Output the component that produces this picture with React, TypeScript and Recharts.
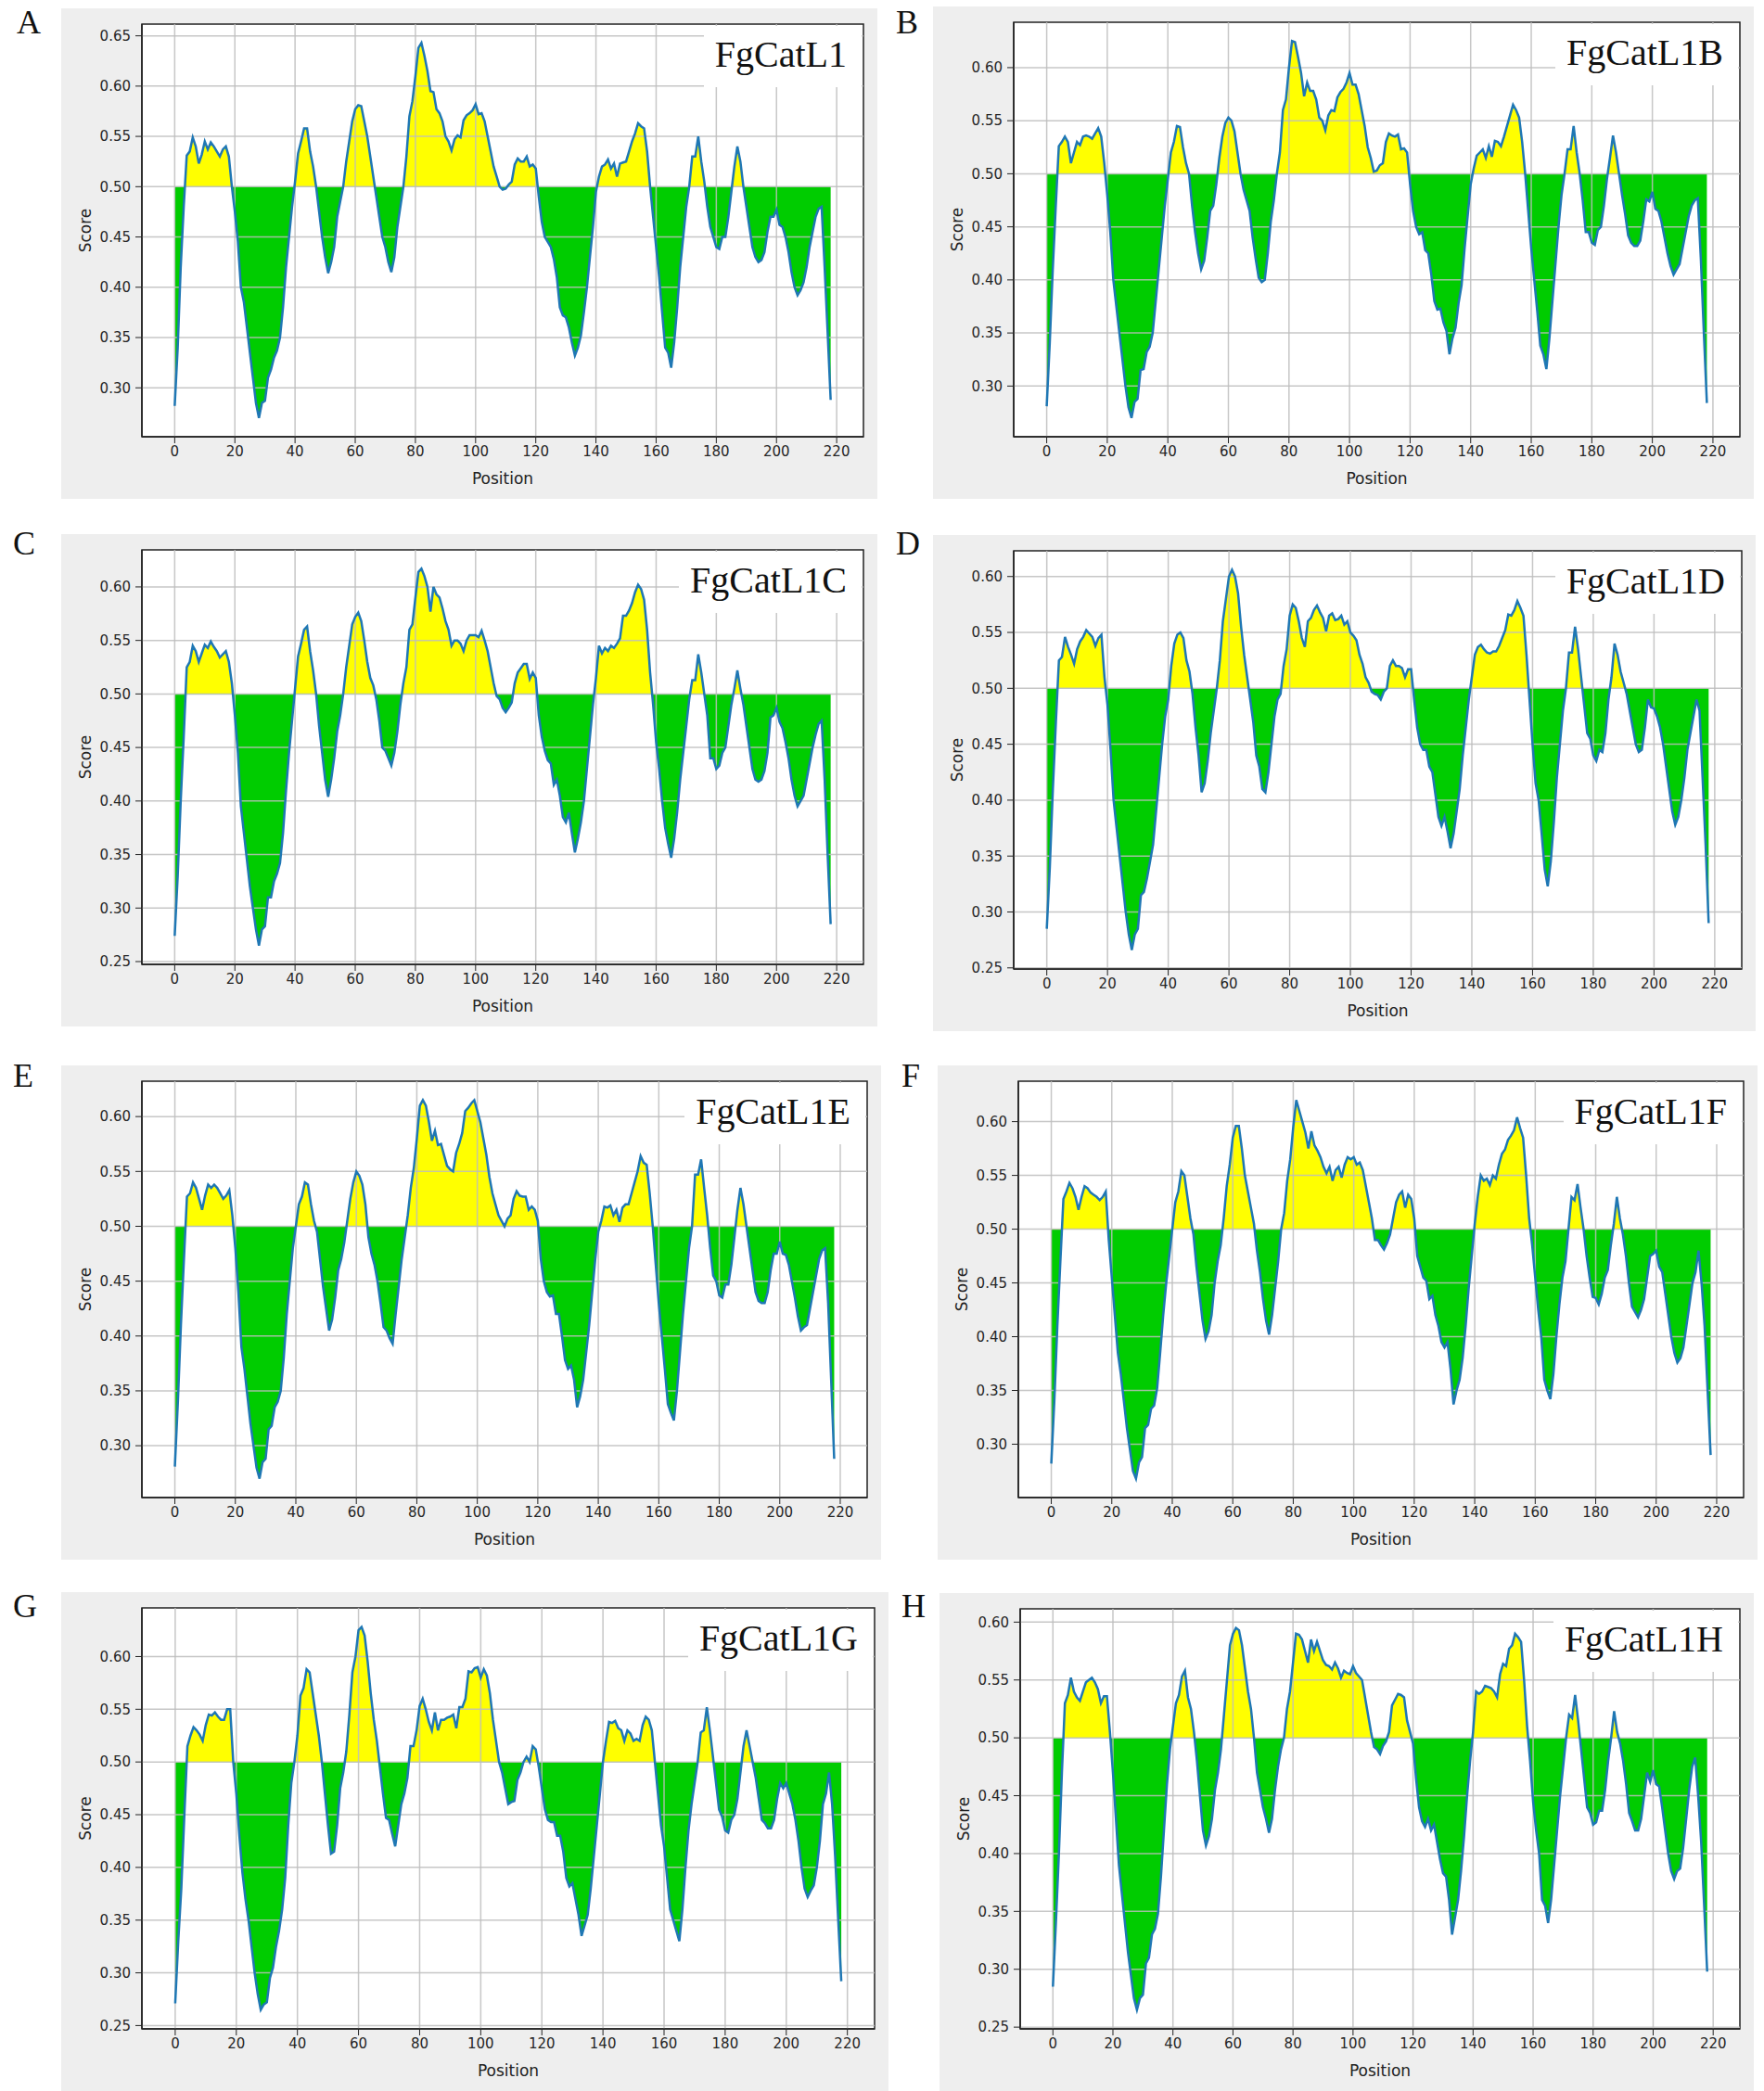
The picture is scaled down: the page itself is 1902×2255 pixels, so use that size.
import React from 'react';
import { ComposedChart, Area, Line, XAxis, YAxis, ReferenceLine } from 'recharts';

// residue positions 0..218
const positions = Array.from({ length: 219 }, (_, i) => i);

const xTicks = [0, 20, 40, 60, 80, 100, 120, 140, 160, 180, 200, 220];
const xMinorTicks = [-10, -5, 0, 5, 10, 15, 20, 25, 30, 35, 40, 45, 50, 55, 60, 65, 70, 75, 80, 85, 90, 95, 100,
  105, 110, 115, 120, 125, 130, 135, 140, 145, 150, 155, 160, 165, 170, 175, 180, 185, 190, 195, 200, 205, 210, 215, 220, 225];

const ticks65 = [0.3, 0.35, 0.4, 0.45, 0.5, 0.55, 0.6, 0.65];
const ticks60 = [0.3, 0.35, 0.4, 0.45, 0.5, 0.55, 0.6];
const ticks25 = [0.25, 0.3, 0.35, 0.4, 0.45, 0.5, 0.55, 0.6];

const scoreA = [
  0.282, 0.34, 0.42, 0.48, 0.531, 0.535, 0.549, 0.54, 0.523, 0.532,
  0.545, 0.537, 0.544, 0.54, 0.535, 0.53, 0.537, 0.54, 0.53, 0.5,
  0.475, 0.445, 0.4, 0.385, 0.36, 0.335, 0.31, 0.285, 0.27, 0.285,
  0.287, 0.31, 0.318, 0.33, 0.337, 0.35, 0.38, 0.42, 0.45, 0.48,
  0.505, 0.533, 0.545, 0.558, 0.558, 0.535, 0.52, 0.5, 0.475, 0.45,
  0.43, 0.414, 0.425, 0.44, 0.47, 0.485, 0.5, 0.525, 0.545, 0.565,
  0.577, 0.581, 0.58, 0.565, 0.55, 0.53, 0.51, 0.49, 0.47, 0.45,
  0.44, 0.425, 0.415, 0.43, 0.46, 0.48, 0.5, 0.53, 0.57, 0.585,
  0.61, 0.638, 0.643, 0.63, 0.615, 0.595, 0.594, 0.577, 0.573, 0.565,
  0.55, 0.545, 0.536, 0.547, 0.551, 0.549, 0.566, 0.571, 0.573, 0.576,
  0.582, 0.572, 0.573, 0.565, 0.55, 0.535, 0.52, 0.51, 0.5, 0.497,
  0.498, 0.502, 0.505, 0.522, 0.528, 0.525, 0.525, 0.53, 0.52, 0.522,
  0.518, 0.49, 0.465, 0.45, 0.445, 0.44, 0.428, 0.41, 0.38, 0.372,
  0.37, 0.36, 0.345, 0.332, 0.34, 0.352, 0.375, 0.4, 0.43, 0.46,
  0.495, 0.51, 0.52, 0.522, 0.527, 0.518, 0.523, 0.51, 0.523, 0.524,
  0.525, 0.535, 0.545, 0.553, 0.563, 0.56, 0.558, 0.535, 0.5, 0.47,
  0.44, 0.41, 0.375, 0.34, 0.335, 0.32, 0.345, 0.38, 0.42, 0.45,
  0.48, 0.5, 0.53, 0.53, 0.55, 0.525, 0.505, 0.48, 0.46, 0.45,
  0.44, 0.438, 0.45, 0.45, 0.47, 0.495, 0.52, 0.54, 0.525, 0.5,
  0.48, 0.46, 0.44, 0.43, 0.425, 0.427, 0.435, 0.455, 0.47, 0.47,
  0.477, 0.462, 0.46, 0.45, 0.435, 0.415, 0.4, 0.392, 0.397, 0.405,
  0.42, 0.44, 0.455, 0.47, 0.478, 0.48, 0.42, 0.355, 0.288,
];

const scoreB = [
  0.281, 0.34, 0.41, 0.47, 0.526, 0.53, 0.535, 0.53, 0.51, 0.52,
  0.53, 0.527, 0.535, 0.536, 0.535, 0.533, 0.538, 0.543, 0.535, 0.51,
  0.48, 0.445, 0.4, 0.375, 0.35, 0.325, 0.3, 0.28, 0.27, 0.285,
  0.288, 0.315, 0.316, 0.332, 0.337, 0.35, 0.38, 0.41, 0.44, 0.47,
  0.495, 0.52, 0.53, 0.545, 0.544, 0.525, 0.51, 0.5, 0.47, 0.445,
  0.425, 0.41, 0.418, 0.44, 0.465, 0.47, 0.49, 0.515, 0.535, 0.548,
  0.553, 0.55, 0.54, 0.52, 0.5, 0.485, 0.475, 0.465, 0.44, 0.42,
  0.402, 0.398, 0.4, 0.425, 0.455, 0.475, 0.5, 0.52, 0.56, 0.57,
  0.6, 0.625, 0.624, 0.61, 0.595, 0.573, 0.586, 0.578, 0.578, 0.57,
  0.553, 0.55, 0.541, 0.555, 0.56, 0.559, 0.572, 0.577, 0.58, 0.586,
  0.595, 0.584, 0.584, 0.575, 0.56, 0.545, 0.525, 0.515, 0.502, 0.503,
  0.508, 0.51, 0.53, 0.538, 0.536, 0.535, 0.537, 0.523, 0.524, 0.52,
  0.49, 0.465, 0.45, 0.443, 0.445, 0.428, 0.425, 0.405, 0.38, 0.372,
  0.373, 0.36, 0.352, 0.33, 0.345, 0.355, 0.378, 0.395, 0.43, 0.46,
  0.49, 0.505, 0.517, 0.52, 0.523, 0.515, 0.526, 0.516, 0.531, 0.53,
  0.526, 0.535, 0.545, 0.555, 0.565, 0.56, 0.553, 0.53, 0.5, 0.465,
  0.43, 0.4, 0.37, 0.338, 0.33, 0.316, 0.345, 0.38, 0.415, 0.45,
  0.48, 0.5, 0.523, 0.523, 0.545, 0.52, 0.5, 0.475, 0.445, 0.445,
  0.435, 0.433, 0.447, 0.45, 0.47, 0.495, 0.515, 0.536, 0.52, 0.5,
  0.48, 0.462, 0.442, 0.435, 0.432, 0.432, 0.437, 0.455, 0.476, 0.474,
  0.483, 0.467, 0.465, 0.455, 0.44, 0.425, 0.413, 0.405, 0.41, 0.415,
  0.43, 0.445, 0.46, 0.47, 0.475, 0.477, 0.42, 0.35, 0.284,
];

const scoreC = [
  0.274, 0.33, 0.4, 0.46, 0.525, 0.53, 0.545, 0.54, 0.53, 0.538,
  0.546, 0.543, 0.549, 0.544, 0.54, 0.534, 0.537, 0.54, 0.53, 0.51,
  0.48, 0.445, 0.395, 0.37, 0.345, 0.32, 0.3, 0.28, 0.265, 0.28,
  0.283, 0.31, 0.31, 0.325, 0.332, 0.342, 0.37, 0.41, 0.445, 0.475,
  0.505, 0.535, 0.547, 0.56, 0.563, 0.54, 0.522, 0.5, 0.47, 0.445,
  0.42, 0.404, 0.42, 0.44, 0.465, 0.48, 0.5, 0.525, 0.545, 0.565,
  0.572, 0.576, 0.568, 0.55, 0.53, 0.515, 0.508, 0.495, 0.475, 0.45,
  0.447, 0.44, 0.433, 0.445, 0.465, 0.49, 0.51, 0.525, 0.56, 0.565,
  0.59, 0.614, 0.617, 0.61, 0.6, 0.577, 0.6, 0.593, 0.59, 0.58,
  0.568, 0.56, 0.545, 0.55, 0.55, 0.547, 0.54, 0.55, 0.555, 0.555,
  0.555, 0.553, 0.559, 0.55, 0.54, 0.525, 0.51, 0.498, 0.495, 0.487,
  0.483, 0.487, 0.492, 0.51, 0.52, 0.524, 0.528, 0.528, 0.514, 0.52,
  0.515, 0.48, 0.46, 0.447, 0.438, 0.435, 0.415, 0.42, 0.405, 0.385,
  0.38, 0.389, 0.37, 0.352, 0.365, 0.38, 0.4, 0.43, 0.46, 0.49,
  0.515, 0.545, 0.538, 0.543, 0.54, 0.545, 0.543, 0.547, 0.552, 0.573,
  0.573, 0.578, 0.585, 0.595, 0.602, 0.598, 0.588, 0.56, 0.52, 0.49,
  0.455, 0.43, 0.4, 0.375, 0.36, 0.347, 0.365, 0.39, 0.42, 0.445,
  0.47, 0.495, 0.513, 0.513, 0.537, 0.52, 0.5, 0.48, 0.44, 0.44,
  0.43, 0.433, 0.445, 0.45, 0.47, 0.49, 0.505, 0.522, 0.505, 0.49,
  0.47, 0.45, 0.43, 0.42, 0.418, 0.42, 0.428, 0.445, 0.478, 0.48,
  0.487, 0.474, 0.468, 0.455, 0.44, 0.42, 0.405, 0.395, 0.4, 0.405,
  0.42, 0.435, 0.45, 0.462, 0.472, 0.475, 0.42, 0.35, 0.285,
];

const scoreD = [
  0.285, 0.34, 0.41, 0.47, 0.525, 0.528, 0.546, 0.537, 0.53, 0.522,
  0.535, 0.542, 0.546, 0.552, 0.549, 0.546, 0.538, 0.545, 0.548, 0.51,
  0.485, 0.445, 0.4, 0.375, 0.35, 0.325, 0.3, 0.28, 0.266, 0.28,
  0.285, 0.315, 0.318, 0.33, 0.345, 0.36, 0.39, 0.42, 0.45, 0.475,
  0.49, 0.52, 0.54, 0.548, 0.55, 0.545, 0.525, 0.515, 0.495, 0.465,
  0.44, 0.407, 0.415, 0.435, 0.46, 0.48, 0.5, 0.525, 0.56, 0.58,
  0.6, 0.606, 0.6, 0.585, 0.555, 0.53, 0.51, 0.49, 0.47, 0.44,
  0.43, 0.41, 0.407, 0.425, 0.45, 0.475, 0.49, 0.495, 0.52, 0.535,
  0.565, 0.575, 0.572, 0.56, 0.545, 0.537, 0.56, 0.563, 0.57, 0.574,
  0.568, 0.563, 0.551, 0.565, 0.567, 0.561, 0.562, 0.565, 0.557, 0.56,
  0.55, 0.547, 0.543, 0.53, 0.522, 0.51, 0.505, 0.497, 0.495, 0.494,
  0.49, 0.497, 0.5, 0.52, 0.525, 0.52, 0.52, 0.518, 0.51, 0.517,
  0.517, 0.49, 0.465, 0.45, 0.445, 0.445, 0.43, 0.425, 0.405, 0.385,
  0.377, 0.385, 0.372, 0.357, 0.37, 0.39, 0.41, 0.44, 0.465, 0.49,
  0.51, 0.53, 0.537, 0.539, 0.535, 0.532, 0.531, 0.533, 0.533, 0.538,
  0.545, 0.552, 0.566, 0.565, 0.57, 0.578, 0.572, 0.565, 0.53, 0.49,
  0.45, 0.415, 0.4, 0.37, 0.338, 0.323, 0.345, 0.38, 0.42, 0.45,
  0.48, 0.5, 0.532, 0.532, 0.555, 0.535, 0.51, 0.485, 0.46, 0.455,
  0.44, 0.435, 0.445, 0.443, 0.46, 0.49, 0.51, 0.54, 0.53, 0.515,
  0.505, 0.495, 0.48, 0.465, 0.45, 0.443, 0.445, 0.465, 0.49, 0.483,
  0.482, 0.475, 0.465, 0.45, 0.43, 0.41, 0.39, 0.378, 0.385, 0.4,
  0.42, 0.445, 0.46, 0.475, 0.49, 0.48, 0.42, 0.36, 0.29,
];

const scoreE = [
  0.281, 0.34, 0.41, 0.47, 0.527, 0.53, 0.54, 0.535, 0.525, 0.515,
  0.528, 0.538, 0.535, 0.538, 0.535, 0.53, 0.525, 0.528, 0.533, 0.51,
  0.48, 0.44, 0.39, 0.37, 0.345, 0.32, 0.3, 0.28, 0.27, 0.285,
  0.288, 0.315, 0.318, 0.335, 0.34, 0.35, 0.38, 0.42, 0.45, 0.48,
  0.5, 0.52, 0.527, 0.54, 0.538, 0.52, 0.505, 0.495, 0.47, 0.445,
  0.425, 0.405, 0.415, 0.435, 0.46, 0.47, 0.485, 0.505, 0.525, 0.54,
  0.55, 0.546, 0.538, 0.52, 0.49, 0.475, 0.465, 0.45, 0.43, 0.408,
  0.405, 0.398, 0.393, 0.42, 0.445, 0.47, 0.49, 0.51, 0.535, 0.553,
  0.58, 0.61, 0.615, 0.61, 0.595, 0.578, 0.587, 0.574, 0.575, 0.565,
  0.555, 0.552, 0.55, 0.567, 0.575, 0.585, 0.605, 0.608, 0.612, 0.615,
  0.605, 0.595, 0.58, 0.565, 0.545, 0.53, 0.52, 0.51, 0.505, 0.5,
  0.507, 0.51, 0.525, 0.532, 0.528, 0.527, 0.527, 0.515, 0.518, 0.515,
  0.505, 0.47, 0.45, 0.44, 0.436, 0.437, 0.42, 0.42, 0.4, 0.378,
  0.37, 0.373, 0.36, 0.335, 0.345, 0.36, 0.385, 0.41, 0.44, 0.47,
  0.495, 0.505, 0.518, 0.517, 0.519, 0.51, 0.515, 0.504, 0.517, 0.52,
  0.52, 0.53, 0.54, 0.55, 0.564, 0.558, 0.556, 0.53, 0.5, 0.465,
  0.43, 0.4, 0.37, 0.338, 0.33, 0.323, 0.35, 0.385, 0.42, 0.45,
  0.48, 0.5, 0.547, 0.547, 0.561, 0.535, 0.51, 0.48, 0.455, 0.45,
  0.437, 0.435, 0.447, 0.447, 0.465, 0.49, 0.515, 0.535, 0.52, 0.5,
  0.48, 0.46, 0.44, 0.432, 0.43, 0.43, 0.44, 0.46, 0.475, 0.475,
  0.486, 0.475, 0.474, 0.465, 0.45, 0.435, 0.418, 0.405, 0.408, 0.41,
  0.425, 0.44, 0.455, 0.47, 0.478, 0.48, 0.43, 0.36, 0.288,
];

const scoreF = [
  0.282, 0.34, 0.41, 0.47, 0.528, 0.535, 0.543, 0.538, 0.53, 0.518,
  0.53, 0.54, 0.538, 0.534, 0.532, 0.53, 0.527, 0.53, 0.535, 0.49,
  0.455, 0.42, 0.385, 0.365, 0.34, 0.315, 0.295, 0.275, 0.268, 0.283,
  0.288, 0.315, 0.318, 0.333, 0.336, 0.352, 0.385, 0.42, 0.45, 0.475,
  0.5, 0.525, 0.535, 0.554, 0.55, 0.53, 0.51, 0.495, 0.465, 0.44,
  0.415, 0.398, 0.405, 0.42, 0.45, 0.47, 0.485, 0.51, 0.54, 0.56,
  0.585, 0.596, 0.596, 0.575, 0.55, 0.535, 0.52, 0.505, 0.48, 0.46,
  0.435, 0.415, 0.402, 0.42, 0.445, 0.47, 0.5, 0.515, 0.545, 0.565,
  0.595, 0.62, 0.61, 0.6, 0.59, 0.575, 0.591, 0.578, 0.573, 0.567,
  0.558, 0.552, 0.558, 0.545, 0.555, 0.558, 0.548, 0.56, 0.567, 0.565,
  0.567, 0.56, 0.562, 0.555, 0.54, 0.525, 0.51, 0.49, 0.49, 0.485,
  0.481, 0.487, 0.495, 0.51, 0.525, 0.532, 0.535, 0.52, 0.532, 0.528,
  0.51, 0.475, 0.465, 0.455, 0.452, 0.435, 0.438, 0.42, 0.41, 0.395,
  0.39, 0.395, 0.37, 0.337, 0.35, 0.36, 0.38, 0.41, 0.445, 0.475,
  0.505, 0.53, 0.55, 0.545, 0.547, 0.541, 0.55, 0.547, 0.56, 0.57,
  0.574, 0.583, 0.587, 0.592, 0.604, 0.594, 0.585, 0.55, 0.51, 0.485,
  0.455, 0.425, 0.4, 0.36, 0.35, 0.342, 0.365, 0.4, 0.43, 0.455,
  0.47, 0.5, 0.53, 0.527, 0.542, 0.52, 0.5, 0.475, 0.455, 0.437,
  0.436, 0.43, 0.44, 0.455, 0.462, 0.485, 0.505, 0.53, 0.51, 0.495,
  0.475, 0.45, 0.428, 0.423, 0.418, 0.425, 0.435, 0.455, 0.475, 0.477,
  0.48, 0.465, 0.46, 0.44, 0.42, 0.4, 0.385, 0.376, 0.38, 0.39,
  0.41, 0.43, 0.45, 0.46, 0.48, 0.45, 0.41, 0.35, 0.29,
];

const scoreG = [
  0.271, 0.33, 0.38, 0.45, 0.515, 0.525, 0.533, 0.53, 0.526, 0.52,
  0.535, 0.545, 0.544, 0.547, 0.543, 0.54, 0.54, 0.55, 0.55, 0.5,
  0.47, 0.43, 0.395, 0.37, 0.35, 0.325, 0.3, 0.28, 0.265, 0.27,
  0.272, 0.295, 0.305, 0.325, 0.34, 0.36, 0.39, 0.44, 0.48, 0.5,
  0.525, 0.563, 0.57, 0.588, 0.585, 0.565, 0.545, 0.525, 0.5, 0.47,
  0.44, 0.413, 0.415, 0.44, 0.475, 0.49, 0.51, 0.545, 0.585, 0.6,
  0.625, 0.628, 0.62, 0.595, 0.565, 0.54, 0.52, 0.495, 0.47, 0.447,
  0.445, 0.432, 0.42, 0.44, 0.46, 0.47, 0.485, 0.515, 0.515, 0.53,
  0.553, 0.56, 0.55, 0.538, 0.53, 0.547, 0.53, 0.54, 0.54, 0.542,
  0.543, 0.545, 0.532, 0.552, 0.552, 0.56, 0.586, 0.585, 0.589, 0.59,
  0.58, 0.588, 0.582, 0.565, 0.54, 0.52, 0.5, 0.49, 0.475, 0.46,
  0.462, 0.463, 0.483, 0.49, 0.5, 0.505, 0.5, 0.515, 0.512, 0.495,
  0.475, 0.455, 0.445, 0.443, 0.443, 0.43, 0.43, 0.415, 0.39, 0.382,
  0.385, 0.37, 0.355, 0.335, 0.345, 0.355, 0.38, 0.41, 0.44, 0.47,
  0.5, 0.52, 0.538, 0.537, 0.539, 0.532, 0.53, 0.52, 0.53, 0.527,
  0.52, 0.522, 0.52, 0.535, 0.543, 0.54, 0.53, 0.5, 0.47, 0.44,
  0.42, 0.39, 0.36, 0.35, 0.34, 0.33, 0.36, 0.4, 0.435, 0.46,
  0.48, 0.5, 0.528, 0.53, 0.552, 0.53, 0.505, 0.48, 0.455, 0.448,
  0.435, 0.433, 0.445, 0.45, 0.465, 0.49, 0.515, 0.53, 0.515, 0.5,
  0.485, 0.465, 0.445, 0.442, 0.437, 0.437, 0.445, 0.465, 0.48, 0.475,
  0.48, 0.47, 0.46, 0.445, 0.425, 0.4, 0.38, 0.372, 0.378, 0.383,
  0.4, 0.425, 0.46, 0.47, 0.49, 0.46, 0.41, 0.35, 0.292,
];

const scoreH = [
  0.285, 0.34, 0.4, 0.47, 0.53, 0.537, 0.552, 0.54, 0.535, 0.532,
  0.54, 0.548, 0.55, 0.552, 0.548, 0.542, 0.53, 0.536, 0.536, 0.505,
  0.47, 0.43, 0.39, 0.365, 0.34, 0.315, 0.295, 0.275, 0.265, 0.275,
  0.278, 0.305, 0.31, 0.33, 0.335, 0.348, 0.38, 0.42, 0.46, 0.49,
  0.51, 0.53, 0.537, 0.553, 0.558, 0.535, 0.525, 0.505, 0.48, 0.45,
  0.42, 0.407, 0.415, 0.43, 0.455, 0.47, 0.49, 0.52, 0.55, 0.58,
  0.59, 0.595, 0.593, 0.58, 0.56, 0.54, 0.525, 0.5, 0.47, 0.455,
  0.44, 0.43, 0.418, 0.43, 0.455, 0.475, 0.49, 0.5, 0.525, 0.54,
  0.565, 0.59, 0.589, 0.585, 0.575, 0.565, 0.585, 0.575, 0.583, 0.575,
  0.567, 0.563, 0.562, 0.559, 0.565, 0.56, 0.552, 0.558, 0.556, 0.555,
  0.562, 0.556, 0.553, 0.55, 0.535, 0.52, 0.505, 0.492, 0.49, 0.486,
  0.493, 0.497, 0.505, 0.528, 0.533, 0.538, 0.537, 0.535, 0.515, 0.505,
  0.495, 0.465, 0.44, 0.428, 0.423, 0.43, 0.42, 0.425, 0.41, 0.395,
  0.383, 0.38, 0.36, 0.33, 0.345, 0.36, 0.385, 0.415, 0.45, 0.48,
  0.505, 0.54, 0.538, 0.54, 0.545, 0.544, 0.543, 0.54, 0.535, 0.555,
  0.564, 0.562, 0.577, 0.58, 0.59, 0.587, 0.583, 0.55, 0.51, 0.48,
  0.445, 0.42, 0.4, 0.36, 0.355, 0.34, 0.36, 0.39, 0.42, 0.45,
  0.475, 0.5, 0.52, 0.517, 0.537, 0.515, 0.49, 0.465, 0.44, 0.435,
  0.425, 0.427, 0.437, 0.437, 0.455, 0.48, 0.5, 0.523, 0.505, 0.495,
  0.48, 0.46, 0.435, 0.428, 0.42, 0.42, 0.43, 0.45, 0.47, 0.462,
  0.472, 0.46, 0.458, 0.44, 0.42, 0.4, 0.385, 0.378, 0.385, 0.387,
  0.405, 0.43, 0.455, 0.475, 0.483, 0.45, 0.41, 0.355, 0.298,
];

const panels = [
  { letter: 'A', name: 'FgCatL1', scores: scoreA, yTicks: ticks65 },
  { letter: 'B', name: 'FgCatL1B', scores: scoreB, yTicks: ticks60 },
  { letter: 'C', name: 'FgCatL1C', scores: scoreC, yTicks: ticks25 },
  { letter: 'D', name: 'FgCatL1D', scores: scoreD, yTicks: ticks25 },
  { letter: 'E', name: 'FgCatL1E', scores: scoreE, yTicks: ticks60 },
  { letter: 'F', name: 'FgCatL1F', scores: scoreF, yTicks: ticks60 },
  { letter: 'G', name: 'FgCatL1G', scores: scoreG, yTicks: ticks25 },
  { letter: 'H', name: 'FgCatL1H', scores: scoreH, yTicks: ticks25 },
];

// page placement of each grey panel and its letter
const layout = [
  { x: 66, y: 9, w: 880, h: 529, lx: 18, ly: 6 },
  { x: 1006, y: 7, w: 885, h: 531, lx: 966, ly: 6 },
  { x: 66, y: 576, w: 880, h: 531, lx: 14, ly: 568 },
  { x: 1006, y: 577, w: 887, h: 535, lx: 966, ly: 568 },
  { x: 66, y: 1149, w: 884, h: 533, lx: 14, ly: 1142 },
  { x: 1011, y: 1149, w: 884, h: 533, lx: 972, ly: 1142 },
  { x: 66, y: 1717, w: 892, h: 538, lx: 14, ly: 1714 },
  { x: 1013, y: 1718, w: 878, h: 537, lx: 972, ly: 1714 },
];

const M_TOP = 17;
const M_RIGHT = 15;
const Y_W = 87;
const X_H = 67;
const xDomain = [-10.9, 228.9];
const tickFont = { fontSize: 15, fill: '#262626', fontFamily: 'DejaVu Sans' };
const frame = { stroke: '#222', strokeWidth: 1.5 };
const gridColor = '#bdbdbd';

function Panel({ p, l }: { p: any; l: any }) {
  const rows = positions.map((pos, i) => ({ pos, score: p.scores[i] }));
  const lo = Math.min(...p.scores);
  const hi = Math.max(...p.scores);
  const pad = (hi - lo) * 0.05;
  const yDomain = [lo - pad, hi + pad];
  const split = (hi - 0.5) / (hi - lo);
  const gid = `split${p.letter}`;
  const plotW = l.w - Y_W - M_RIGHT;
  const plotH = l.h - M_TOP - X_H;

  return (
    <div style={{ position: 'absolute', left: l.x, top: l.y, width: l.w, height: l.h, background: '#eeeeee' }}>
      <ComposedChart width={l.w} height={l.h} data={rows} margin={{ top: M_TOP, right: M_RIGHT, left: 0, bottom: 0 }}>
        <defs>
          <linearGradient id={gid} x1="0" y1="0" x2="0" y2="1">
            <stop offset={split} stopColor="#ffff00" />
            <stop offset={split} stopColor="#00cc00" />
          </linearGradient>
        </defs>
        <rect x={Y_W} y={M_TOP} width={plotW} height={plotH} fill="#ffffff" />
        <XAxis xAxisId="minor" dataKey="pos" type="number" domain={xDomain} ticks={xMinorTicks}
          allowDataOverflow height={0} tick={false} axisLine={false} tickSize={4} stroke="#222" />
        <XAxis dataKey="pos" type="number" domain={xDomain} ticks={xTicks} allowDataOverflow
          height={X_H} tickSize={7} tickMargin={3} stroke="#222" axisLine={frame} tick={tickFont}
          label={{ value: 'Position', position: 'insideBottom', offset: 16, fontSize: 17, fill: '#222', fontFamily: 'DejaVu Sans' }} />
        <YAxis type="number" domain={yDomain} ticks={p.yTicks} allowDataOverflow width={Y_W}
          tickSize={7} tickMargin={5} stroke="#222" axisLine={frame} tick={tickFont}
          tickFormatter={(v: number) => v.toFixed(2)}
          label={{ value: 'Score', angle: -90, position: 'insideLeft', offset: 26, fontSize: 17, fill: '#222', fontFamily: 'DejaVu Sans', style: { textAnchor: 'middle' } }} />
        <Area dataKey="score" type="linear" baseValue={0.5} stroke="none" fill={`url(#${gid})`}
          fillOpacity={1} dot={false} activeDot={false} isAnimationActive={false} />
        {p.yTicks.map((t: number) => (
          <ReferenceLine key={`y${t}`} y={t} stroke={gridColor} strokeOpacity={0.85} strokeWidth={1.5} />
        ))}
        {xTicks.map((t) => (
          <ReferenceLine key={`x${t}`} x={t} stroke={gridColor} strokeOpacity={0.85} strokeWidth={1.5} />
        ))}
        <Line dataKey="score" type="linear" stroke="#1f77b4" strokeWidth={2.5} dot={false}
          activeDot={false} isAnimationActive={false} />
        <rect x={Y_W} y={M_TOP} width={plotW} height={plotH} fill="none" stroke="#222" strokeWidth={1.5} />
      </ComposedChart>
      <div style={{
        position: 'absolute', right: M_RIGHT + 2, top: M_TOP + 2, background: '#ffffff',
        padding: '11px 16px 15px 12px', fontFamily: '"Liberation Serif", serif', fontSize: 40, lineHeight: '40px',
        color: '#111',
      }}>
        {p.name}
      </div>
    </div>
  );
}

export default function App() {
  return (
    <div style={{ position: 'absolute', left: 0, top: 0, width: 1902, height: 2255, background: '#ffffff', overflow: 'hidden' }}>
      {panels.map((p, i) => (
        <React.Fragment key={p.letter}>
          <Panel p={p} l={layout[i]} />
          <div style={{
            position: 'absolute', left: layout[i].lx, top: layout[i].ly,
            fontFamily: '"Liberation Serif", serif', fontSize: 36, lineHeight: '36px', color: '#111',
          }}>
            {p.letter}
          </div>
        </React.Fragment>
      ))}
    </div>
  );
}
